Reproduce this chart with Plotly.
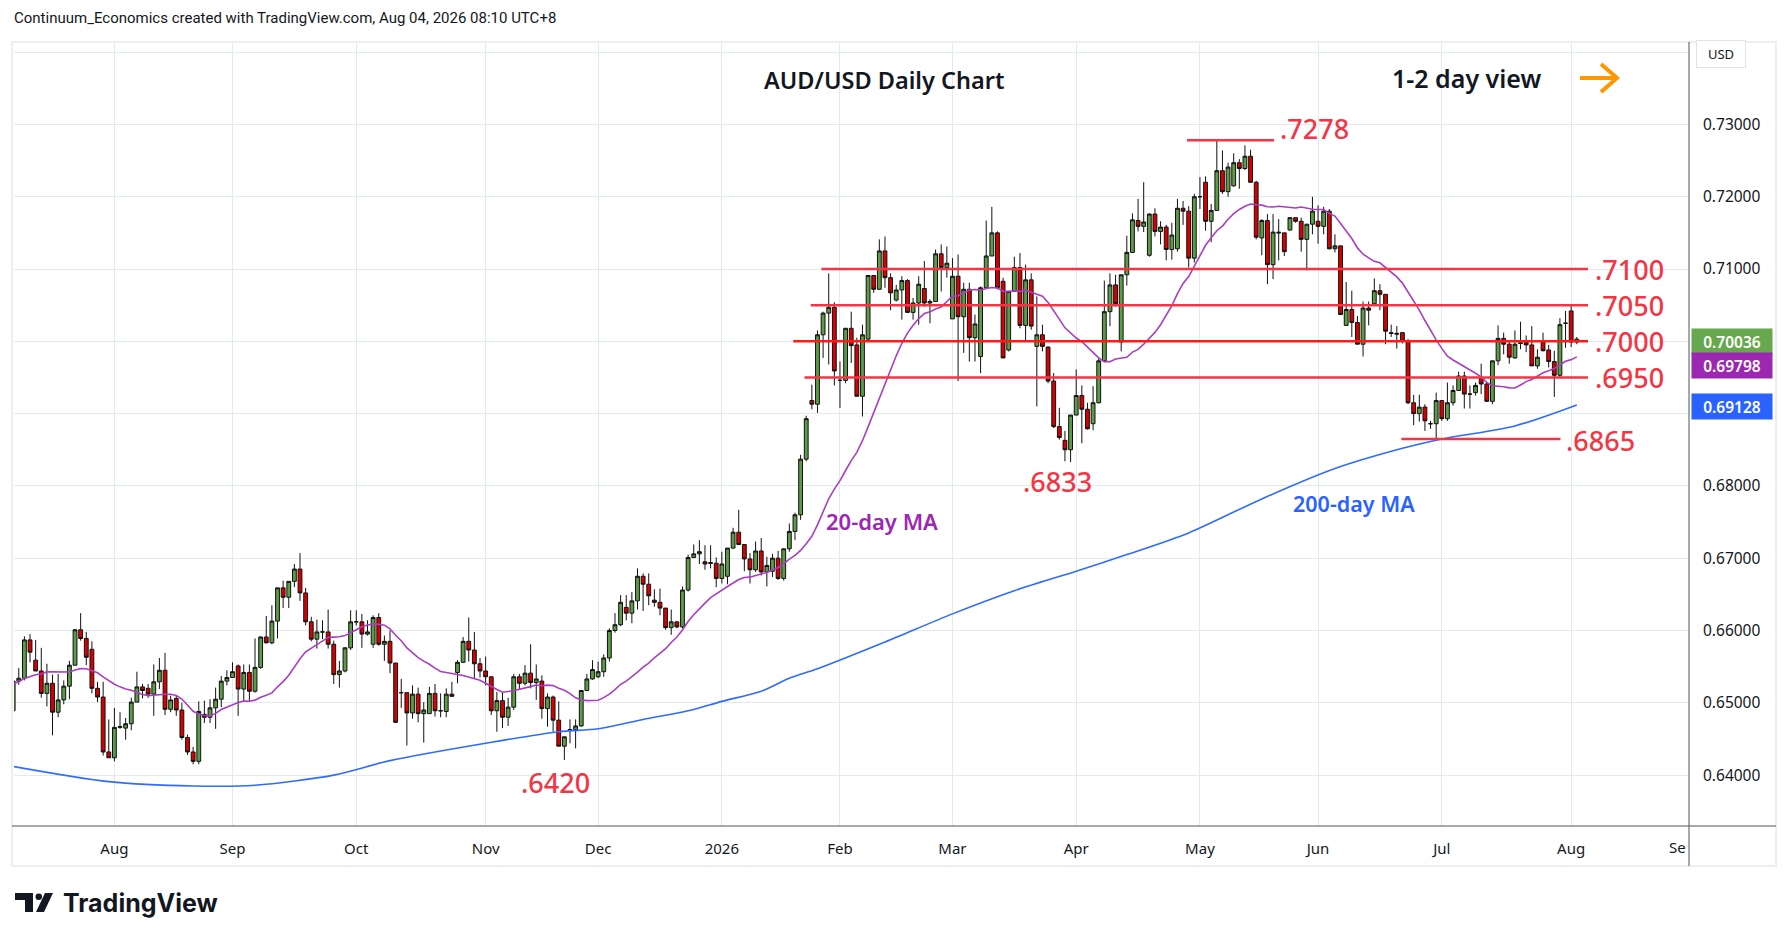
import pandas as pd
import plotly.graph_objects as go

# daily AUD/USD candles, 8 Jul 2025 -> 4 Aug 2026
opens = [0.6489, 0.6530, 0.6534, 0.6587, 0.6559, 0.6544, 0.6513, 0.6527, 0.6487, 0.6504,
         0.6523, 0.6552, 0.6601, 0.6589, 0.6574, 0.6520, 0.6508, 0.6432, 0.6424, 0.6466,
         0.6465, 0.6471, 0.6501, 0.6522, 0.6520, 0.6512, 0.6529, 0.6545, 0.6491, 0.6506,
         0.6490, 0.6452, 0.6432, 0.6419, 0.6484, 0.6480, 0.6493, 0.6505, 0.6530, 0.6535,
         0.6551, 0.6519, 0.6542, 0.6516, 0.6549, 0.6591, 0.6583, 0.6613, 0.6659, 0.6646,
         0.6668, 0.6685, 0.6652, 0.6612, 0.6588, 0.6598, 0.6598, 0.6581, 0.6539, 0.6544,
         0.6576, 0.6612, 0.6612, 0.6595, 0.6581, 0.6618, 0.6581, 0.6585, 0.6555, 0.6514,
         0.6514, 0.6486, 0.6512, 0.6485, 0.6485, 0.6513, 0.6489, 0.6488, 0.6512, 0.6542,
         0.6556, 0.6585, 0.6573, 0.6554, 0.6544, 0.6536, 0.6489, 0.6503, 0.6480, 0.6494,
         0.6536, 0.6527, 0.6541, 0.6528, 0.6530, 0.6492, 0.6508, 0.6476, 0.6440, 0.6463,
         0.6463, 0.6468, 0.6517, 0.6533, 0.6536, 0.6543, 0.6562, 0.6600, 0.6608, 0.6632,
         0.6624, 0.6641, 0.6675, 0.6664, 0.6642, 0.6639, 0.6631, 0.6604, 0.6612, 0.6605,
         0.6656, 0.6701, 0.6706, 0.6695, 0.6694, 0.6693, 0.6672, 0.6675, 0.6714, 0.6736,
         0.6719, 0.6699, 0.6684, 0.6710, 0.6681, 0.6682, 0.6700, 0.6672, 0.6713, 0.6737,
         0.6760, 0.6837, 0.6918, 0.6913, 0.7009, 0.7039, 0.7047, 0.6946, 0.6946, 0.7018,
         0.6995, 0.6924, 0.7003, 0.7091, 0.7072, 0.7125, 0.7088, 0.7057, 0.7071, 0.7084,
         0.7040, 0.7053, 0.7073, 0.7053, 0.7055, 0.7121, 0.7102, 0.7031, 0.7090, 0.7034,
         0.7072, 0.7005, 0.6979, 0.7074, 0.7118, 0.7150, 0.7083, 0.6988, 0.7069, 0.7102,
         0.7022, 0.7085, 0.6993, 0.7009, 0.6992, 0.6945, 0.6882, 0.6863, 0.6850, 0.6898,
         0.6925, 0.6906, 0.6886, 0.6915, 0.6973, 0.7041, 0.7078, 0.6999, 0.7092, 0.7123,
         0.7167, 0.7159, 0.7119, 0.7176, 0.7152, 0.7158, 0.7127, 0.7128, 0.7184, 0.7180,
         0.7115, 0.7200, 0.7220, 0.7166, 0.7181, 0.7236, 0.7207, 0.7215, 0.7247, 0.7239,
         0.7256, 0.7220, 0.7143, 0.7167, 0.7106, 0.7151, 0.7150, 0.7154, 0.7171, 0.7166,
         0.7141, 0.7162, 0.7166, 0.7159, 0.7180, 0.7128, 0.7132, 0.7022, 0.7044, 0.7026,
         0.6996, 0.7046, 0.7052, 0.7070, 0.7065, 0.7012, 0.7011, 0.7012, 0.7000, 0.6915,
         0.6900, 0.6909, 0.6886, 0.6886, 0.6918, 0.6893, 0.6915, 0.6932, 0.6952, 0.6927,
         0.6929, 0.6949, 0.6941, 0.6917, 0.6973, 0.7004, 0.6996, 0.6977, 0.6998, 0.6999,
         0.6995, 0.6966, 0.6999, 0.6988, 0.6972, 0.6953, 0.7025, 0.7042, 0.6999]
highs = [0.6535, 0.6548, 0.6592, 0.6595, 0.6587, 0.6576, 0.6554, 0.6539, 0.6540, 0.6531,
         0.6558, 0.6602, 0.6624, 0.6598, 0.6585, 0.6529, 0.6529, 0.6477, 0.6493, 0.6487,
         0.6479, 0.6507, 0.6543, 0.6526, 0.6526, 0.6553, 0.6562, 0.6569, 0.6510, 0.6510,
         0.6500, 0.6456, 0.6439, 0.6502, 0.6503, 0.6505, 0.6521, 0.6537, 0.6545, 0.6556,
         0.6553, 0.6553, 0.6553, 0.6589, 0.6592, 0.6620, 0.6635, 0.6659, 0.6669, 0.6668,
         0.6692, 0.6707, 0.6659, 0.6619, 0.6615, 0.6614, 0.6629, 0.6586, 0.6558, 0.6577,
         0.6628, 0.6628, 0.6623, 0.6614, 0.6621, 0.6624, 0.6593, 0.6600, 0.6555, 0.6533,
         0.6514, 0.6524, 0.6521, 0.6501, 0.6522, 0.6526, 0.6513, 0.6520, 0.6529, 0.6559,
         0.6591, 0.6618, 0.6598, 0.6562, 0.6564, 0.6536, 0.6515, 0.6515, 0.6507, 0.6540,
         0.6540, 0.6552, 0.6581, 0.6553, 0.6538, 0.6513, 0.6510, 0.6502, 0.6453, 0.6477,
         0.6477, 0.6517, 0.6540, 0.6559, 0.6557, 0.6567, 0.6603, 0.6624, 0.6649, 0.6649,
         0.6653, 0.6686, 0.6679, 0.6679, 0.6657, 0.6658, 0.6631, 0.6629, 0.6612, 0.6661,
         0.6705, 0.6719, 0.6725, 0.6718, 0.6718, 0.6701, 0.6709, 0.6714, 0.6742, 0.6767,
         0.6719, 0.6707, 0.6723, 0.6728, 0.6702, 0.6706, 0.6710, 0.6713, 0.6748, 0.6763,
         0.6843, 0.6897, 0.6940, 0.7015, 0.7041, 0.7094, 0.7054, 0.6972, 0.7018, 0.7041,
         0.7005, 0.7023, 0.7091, 0.7091, 0.7141, 0.7145, 0.7094, 0.7078, 0.7090, 0.7086,
         0.7060, 0.7090, 0.7111, 0.7058, 0.7127, 0.7134, 0.7131, 0.7115, 0.7120, 0.7081,
         0.7081, 0.7037, 0.7076, 0.7167, 0.7186, 0.7152, 0.7088, 0.7069, 0.7117, 0.7122,
         0.7106, 0.7094, 0.7062, 0.7023, 0.6993, 0.6956, 0.6908, 0.6876, 0.6898, 0.6961,
         0.6939, 0.6915, 0.6938, 0.6977, 0.7084, 0.7094, 0.7092, 0.7092, 0.7146, 0.7177,
         0.7197, 0.7220, 0.7177, 0.7184, 0.7166, 0.7161, 0.7164, 0.7197, 0.7194, 0.7187,
         0.7204, 0.7227, 0.7228, 0.7190, 0.7278, 0.7264, 0.7247, 0.7260, 0.7252, 0.7271,
         0.7265, 0.7222, 0.7169, 0.7176, 0.7176, 0.7169, 0.7150, 0.7171, 0.7171, 0.7171,
         0.7162, 0.7200, 0.7188, 0.7186, 0.7183, 0.7148, 0.7132, 0.7082, 0.7070, 0.7035,
         0.7055, 0.7055, 0.7087, 0.7079, 0.7065, 0.7023, 0.7021, 0.7012, 0.7003, 0.6926,
         0.6926, 0.6913, 0.6890, 0.6929, 0.6918, 0.6943, 0.6939, 0.6958, 0.6958, 0.6939,
         0.6943, 0.6969, 0.6943, 0.6973, 0.7022, 0.7012, 0.7001, 0.7015, 0.7027, 0.7008,
         0.7021, 0.6989, 0.7012, 0.6995, 0.6987, 0.7032, 0.7042, 0.7049, 0.7006]
lows = [0.6485, 0.6525, 0.6531, 0.6556, 0.6544, 0.6507, 0.6495, 0.6455, 0.6480, 0.6498,
        0.6505, 0.6552, 0.6586, 0.6552, 0.6513, 0.6501, 0.6427, 0.6424, 0.6419, 0.6464,
        0.6449, 0.6462, 0.6501, 0.6506, 0.6507, 0.6482, 0.6519, 0.6483, 0.6487, 0.6482,
        0.6449, 0.6428, 0.6415, 0.6415, 0.6472, 0.6472, 0.6464, 0.6494, 0.6524, 0.6535,
        0.6482, 0.6502, 0.6502, 0.6514, 0.6547, 0.6582, 0.6581, 0.6589, 0.6631, 0.6631,
        0.6660, 0.6641, 0.6607, 0.6585, 0.6575, 0.6588, 0.6575, 0.6526, 0.6521, 0.6542,
        0.6573, 0.6607, 0.6576, 0.6593, 0.6576, 0.6579, 0.6558, 0.6541, 0.6472, 0.6493,
        0.6441, 0.6478, 0.6473, 0.6445, 0.6485, 0.6481, 0.6480, 0.6480, 0.6509, 0.6527,
        0.6555, 0.6557, 0.6534, 0.6535, 0.6524, 0.6483, 0.6460, 0.6465, 0.6468, 0.6490,
        0.6518, 0.6524, 0.6520, 0.6504, 0.6478, 0.6467, 0.6460, 0.6440, 0.6421, 0.6444,
        0.6437, 0.6467, 0.6516, 0.6532, 0.6534, 0.6536, 0.6557, 0.6597, 0.6606, 0.6614,
        0.6610, 0.6629, 0.6627, 0.6635, 0.6633, 0.6621, 0.6601, 0.6594, 0.6603, 0.6603,
        0.6654, 0.6700, 0.6692, 0.6684, 0.6686, 0.6660, 0.6665, 0.6664, 0.6713, 0.6718,
        0.6682, 0.6665, 0.6681, 0.6676, 0.6661, 0.6674, 0.6670, 0.6669, 0.6709, 0.6725,
        0.6753, 0.6834, 0.6906, 0.6901, 0.6977, 0.6968, 0.6939, 0.6908, 0.6942, 0.6970,
        0.6924, 0.6896, 0.7002, 0.7067, 0.7071, 0.7074, 0.7043, 0.7055, 0.7030, 0.7039,
        0.7030, 0.7023, 0.7048, 0.7025, 0.7055, 0.7069, 0.7088, 0.7031, 0.6945, 0.6984,
        0.6972, 0.6972, 0.6956, 0.7074, 0.7118, 0.7072, 0.6977, 0.6986, 0.7069, 0.7018,
        0.6999, 0.7016, 0.6910, 0.6986, 0.6942, 0.6880, 0.6864, 0.6834, 0.6833, 0.6898,
        0.6859, 0.6878, 0.6877, 0.6914, 0.6971, 0.7021, 0.7048, 0.6986, 0.7077, 0.7123,
        0.7152, 0.7151, 0.7117, 0.7145, 0.7134, 0.7112, 0.7113, 0.7124, 0.7161, 0.7102,
        0.7109, 0.7183, 0.7153, 0.7137, 0.7181, 0.7204, 0.7200, 0.7214, 0.7211, 0.7237,
        0.7219, 0.7141, 0.7119, 0.7079, 0.7086, 0.7112, 0.7118, 0.7153, 0.7164, 0.7124,
        0.7098, 0.7148, 0.7135, 0.7148, 0.7127, 0.7123, 0.7037, 0.7022, 0.7006, 0.6996,
        0.6979, 0.7022, 0.7052, 0.7043, 0.6996, 0.7006, 0.6990, 0.6997, 0.6913, 0.6884,
        0.6889, 0.6876, 0.6879, 0.6865, 0.6890, 0.6890, 0.6911, 0.6932, 0.6907, 0.6907,
        0.6925, 0.6927, 0.6916, 0.6913, 0.6967, 0.6982, 0.6969, 0.6976, 0.6989, 0.6985,
        0.6966, 0.6962, 0.6986, 0.6964, 0.6923, 0.6949, 0.6991, 0.6992, 0.6996]
closes = [0.6530, 0.6534, 0.6587, 0.6570, 0.6544, 0.6513, 0.6527, 0.6487, 0.6504, 0.6523,
          0.6552, 0.6601, 0.6589, 0.6563, 0.6520, 0.6508, 0.6432, 0.6424, 0.6466, 0.6467,
          0.6471, 0.6501, 0.6522, 0.6517, 0.6512, 0.6529, 0.6545, 0.6491, 0.6504, 0.6490,
          0.6452, 0.6432, 0.6419, 0.6488, 0.6480, 0.6493, 0.6505, 0.6530, 0.6535, 0.6543,
          0.6519, 0.6542, 0.6516, 0.6549, 0.6591, 0.6583, 0.6613, 0.6659, 0.6646, 0.6668,
          0.6685, 0.6652, 0.6612, 0.6588, 0.6598, 0.6598, 0.6581, 0.6539, 0.6544, 0.6576,
          0.6612, 0.6612, 0.6595, 0.6598, 0.6618, 0.6581, 0.6585, 0.6555, 0.6473, 0.6514,
          0.6486, 0.6512, 0.6485, 0.6490, 0.6513, 0.6489, 0.6489, 0.6512, 0.6509, 0.6556,
          0.6585, 0.6573, 0.6554, 0.6544, 0.6536, 0.6489, 0.6503, 0.6480, 0.6494, 0.6536,
          0.6527, 0.6541, 0.6528, 0.6533, 0.6492, 0.6508, 0.6476, 0.6440, 0.6453, 0.6462,
          0.6468, 0.6517, 0.6533, 0.6546, 0.6543, 0.6562, 0.6600, 0.6608, 0.6639, 0.6624,
          0.6641, 0.6675, 0.6664, 0.6648, 0.6639, 0.6631, 0.6604, 0.6612, 0.6605, 0.6656,
          0.6701, 0.6706, 0.6709, 0.6692, 0.6693, 0.6672, 0.6692, 0.6714, 0.6736, 0.6719,
          0.6699, 0.6684, 0.6710, 0.6681, 0.6690, 0.6700, 0.6672, 0.6713, 0.6737, 0.6760,
          0.6837, 0.6893, 0.6913, 0.7009, 0.7039, 0.7047, 0.6959, 0.6946, 0.7018, 0.6994,
          0.6924, 0.7009, 0.7091, 0.7072, 0.7125, 0.7088, 0.7067, 0.7071, 0.7084, 0.7040,
          0.7053, 0.7079, 0.7053, 0.7055, 0.7121, 0.7102, 0.7108, 0.7090, 0.7034, 0.7072,
          0.7005, 0.7024, 0.7074, 0.7118, 0.7150, 0.7074, 0.6977, 0.7069, 0.7102, 0.7022,
          0.7085, 0.7021, 0.7009, 0.6993, 0.6945, 0.6882, 0.6867, 0.6850, 0.6898, 0.6925,
          0.6906, 0.6879, 0.6915, 0.6973, 0.7041, 0.7078, 0.7052, 0.7092, 0.7123, 0.7168,
          0.7159, 0.7165, 0.7176, 0.7152, 0.7158, 0.7127, 0.7147, 0.7184, 0.7180, 0.7115,
          0.7200, 0.7200, 0.7166, 0.7181, 0.7236, 0.7207, 0.7241, 0.7247, 0.7239, 0.7256,
          0.7220, 0.7144, 0.7167, 0.7106, 0.7151, 0.7150, 0.7124, 0.7171, 0.7166, 0.7141,
          0.7162, 0.7180, 0.7159, 0.7180, 0.7128, 0.7132, 0.7037, 0.7044, 0.7026, 0.6996,
          0.7046, 0.7043, 0.7070, 0.7065, 0.7014, 0.7011, 0.7010, 0.7000, 0.6915, 0.6900,
          0.6909, 0.6890, 0.6886, 0.6918, 0.6893, 0.6915, 0.6932, 0.6952, 0.6927, 0.6927,
          0.6939, 0.6941, 0.6917, 0.6973, 0.7004, 0.6996, 0.6978, 0.6996, 0.6997, 0.6995,
          0.6966, 0.6978, 0.6987, 0.6972, 0.6953, 0.7023, 0.7025, 0.6999, 0.7003]

# closes before the first visible bar, only used to seed the 20-day average
pre_closes = [0.6480, 0.6495, 0.6510, 0.6505, 0.6490, 0.6470, 0.6485, 0.6500, 0.6525, 0.6560,
              0.6545, 0.6550, 0.6565, 0.6580, 0.6560, 0.6545, 0.6535, 0.6560, 0.6540]

# 200-day MA read at points along the line (bar index, value)
ma200_idx = [0, 17, 32, 43, 57, 67, 84, 97, 104, 112, 120, 126, 133, 138, 143, 155,
             167, 178, 189, 198, 209, 222, 235, 247, 254, 267, 278]
ma200_val = [0.6412, 0.6391, 0.6385, 0.6386, 0.6400, 0.6420, 0.6444, 0.6460, 0.6464, 0.6477,
             0.6489, 0.6502, 0.6516, 0.6534, 0.6547, 0.6584, 0.6623, 0.6655, 0.6682, 0.6705,
             0.6735, 0.6782, 0.6824, 0.6852, 0.6865, 0.6883, 0.6912]

levels = [0.7100, 0.7050, 0.7000, 0.6950]
level_text = [".7100", ".7050", ".7000", ".6950"]
last_price, last_ma20, last_ma200 = "0.70036", "0.69798", "0.69128"
price_ticks = [0.64, 0.65, 0.66, 0.67, 0.68, 0.69, 0.70, 0.71, 0.72, 0.73, 0.74]

# trading days (TradingView has no bar on Christmas / New Year)
dates = pd.bdate_range("2025-07-08", "2026-09-01")
dates = dates[~dates.isin(pd.to_datetime(["2025-12-25", "2026-01-01"]))]
x = list(range(len(closes)))

tickvals, ticktext = [], []
for i in range(1, len(dates)):
    if dates[i].month != dates[i - 1].month:
        tickvals.append(i)
        ticktext.append("2026" if dates[i].month == 1 else dates[i].strftime("%b"))

# labels hidden behind the price tags / USD box on the real chart
ytext = ["" if v in (0.69, 0.70, 0.74) else f"{v:.5f}" for v in price_ticks]

ma20 = pd.Series(pre_closes + closes).rolling(20).mean().iloc[len(pre_closes):].tolist()

RED = "#f23645"
FONT = "Noto Sans"

fig = go.Figure()
fig.add_trace(go.Scatter(x=ma200_idx, y=ma200_val, mode="lines",
                         line=dict(color="#2f6bff", width=1.6, shape="spline", smoothing=0.8),
                         hoverinfo="skip"))
fig.add_trace(go.Scatter(x=x, y=ma20, mode="lines",
                         line=dict(color="#a93fbf", width=1.6), hoverinfo="skip"))
fig.add_trace(go.Candlestick(
    x=x, open=opens, high=highs, low=lows, close=closes,
    increasing=dict(fillcolor="#5d9c46", line=dict(color="#111111", width=1)),
    decreasing=dict(fillcolor="#d60000", line=dict(color="#111111", width=1)),
    whiskerwidth=0,
))

# support / resistance lines
shapes = []
starts = [143.7, 141.8, 138.7, 140.7]
for lv, x0 in zip(levels, starts):
    shapes.append(dict(type="line", xref="x", yref="y", x0=x0, x1=280.0, y0=lv, y1=lv,
                       line=dict(color="#ff1a1a" if lv == 0.70 else RED, width=2.5)))
shapes.append(dict(type="line", xref="x", yref="y", x0=208.7, x1=224.2, y0=0.7278, y1=0.7278,
                   line=dict(color=RED, width=2.5)))
shapes.append(dict(type="line", xref="x", yref="y", x0=246.8, x1=275.1, y0=0.6865, y1=0.6865,
                   line=dict(color=RED, width=2.5)))

# page pixel -> paper coords (plot area spans x 14..1689, y 43..826 on the page)
PW, PH, L, B = 1675.0, 783.0, 14.0, 826.0
def px(xp):
    return (xp - L) / PW
def py(yp):
    return (B - yp) / PH

shapes += [
    dict(type="rect", xref="paper", yref="paper", x0=px(12), x1=px(1776), y0=py(866), y1=py(42),
         line=dict(color="#eeeeee", width=2)),
    dict(type="line", xref="paper", yref="paper", x0=px(1689), x1=px(1689), y0=py(866), y1=py(42),
         line=dict(color="#50535e", width=1)),
    dict(type="line", xref="paper", yref="paper", x0=px(12), x1=px(1776), y0=py(826), y1=py(826),
         line=dict(color="#50535e", width=1)),
    dict(type="line", xref="paper", yref="paper", x0=px(1580), x1=px(1615), y0=py(78), y1=py(78),
         line=dict(color="#ff9800", width=4)),
    dict(type="path", xref="paper", yref="paper",
         path=f"M {px(1601)} {py(64)} L {px(1617)} {py(78)} L {px(1601)} {py(92)}",
         line=dict(color="#ff9800", width=4)),
    # TradingView logo
    dict(type="path", xref="paper", yref="paper", fillcolor="#131722", line=dict(width=0),
         path=f"M {px(15)} {py(893)} L {px(33)} {py(893)} L {px(33)} {py(912)} L {px(25)} {py(912)} "
              f"L {px(25)} {py(900)} L {px(15)} {py(900)} Z"),
    dict(type="circle", xref="paper", yref="paper", fillcolor="#131722", line=dict(width=0),
         x0=px(35.5), x1=px(42), y0=py(900), y1=py(893.5)),
    dict(type="path", xref="paper", yref="paper", fillcolor="#131722", line=dict(width=0),
         path=f"M {px(45)} {py(893)} L {px(53)} {py(893)} L {px(44)} {py(912)} L {px(36)} {py(912)} Z"),
]

ann = []
def text(xv, yv, t, size, color, xanchor="center", xref="x", yref="y", weight=600, family=FONT):
    ann.append(dict(x=xv, y=yv, xref=xref, yref=yref, text=t, showarrow=False,
                    xanchor=xanchor, yanchor="middle",
                    font=dict(size=size, color=color, family=family, weight=weight)))

for lv, t in zip(levels, level_text):
    text(280.9, lv, t, 27, RED, xanchor="left", weight=500)
text(224.9, 0.7294, ".7278", 27, RED, xanchor="left", weight=500)
text(275.8, 0.6863, ".6865", 27, RED, xanchor="left", weight=500)
text(185.7, 0.6806, ".6833", 27, RED, weight=500)
text(96.5, 0.6390, ".6420", 27, RED, weight=500)
text(154.4, 0.6751, "20-day MA", 22, "#9c27b0", weight=600)
text(238.4, 0.6776, "200-day MA", 21.5, "#2962ff", weight=600)

text(px(884), py(80), "AUD/USD Daily Chart", 23.5, "#131722", xref="paper", yref="paper", weight=600)
text(px(1390), py(78), "1-2 day view", 25, "#131722", xanchor="left", xref="paper", yref="paper", weight=600)
text(px(12), py(18), "Continuum_Economics created with TradingView.com, Aug 04, 2026 08:10 UTC+8",
     15, "#131722", xanchor="left", xref="paper", yref="paper", weight=400, family="Roboto")
text(px(61), py(903), "TradingView", 25, "#131722", xanchor="left", xref="paper", yref="paper",
     weight=700, family="Inter")
text(px(1688), py(847), "Se", 15, "#131722", xanchor="right", xref="paper", yref="paper", weight=400)

# right-hand price tags
for t, col, yy in [(last_price, "#67a84e", 341), (last_ma20, "#9c27b0", 365.5), (last_ma200, "#2962ff", 406)]:
    ann.append(dict(x=px(1691), y=py(yy), xref="paper", yref="paper", text=t, showarrow=False,
                    xanchor="left", yanchor="middle", width=74, height=19, bgcolor=col, borderpad=3,
                    font=dict(size=15.5, color="white", family=FONT, weight=600)))
ann.append(dict(x=px(1721), y=py(54), xref="paper", yref="paper", text="USD", showarrow=False,
                xanchor="center", yanchor="middle", bgcolor="white", bordercolor="#e0e3eb",
                borderwidth=1, borderpad=4, width=40,
                font=dict(size=13, color="#131722", family=FONT)))

# the page body has an 8px margin, so the figure is shrunk by 16px and shifted
fig.update_layout(
    width=1773, height=925,
    margin=dict(l=6, r=92, t=35, b=107),
    paper_bgcolor="white", plot_bgcolor="white",
    showlegend=False, boxgap=0.2, boxgroupgap=0.15,
    shapes=shapes, annotations=ann,
    xaxis=dict(range=[0.15, 297.95], tickmode="array", tickvals=tickvals, ticktext=ticktext,
               showgrid=True, gridcolor="#e3e9f0", gridwidth=1, zeroline=False,
               rangeslider=dict(visible=False), ticks="", ticklabelstandoff=12,
               tickfont=dict(size=15, color="#131722", family=FONT), showline=False),
    yaxis=dict(range=[0.63296, 0.74126], side="right", tickmode="array",
               tickvals=price_ticks, ticktext=ytext, showgrid=True, gridcolor="#e3e9f0",
               zeroline=False, ticks="", ticklabelstandoff=13,
               tickfont=dict(size=15.5, color="#131722", family=FONT), showline=False),
)

fig.write_html("out.html")
